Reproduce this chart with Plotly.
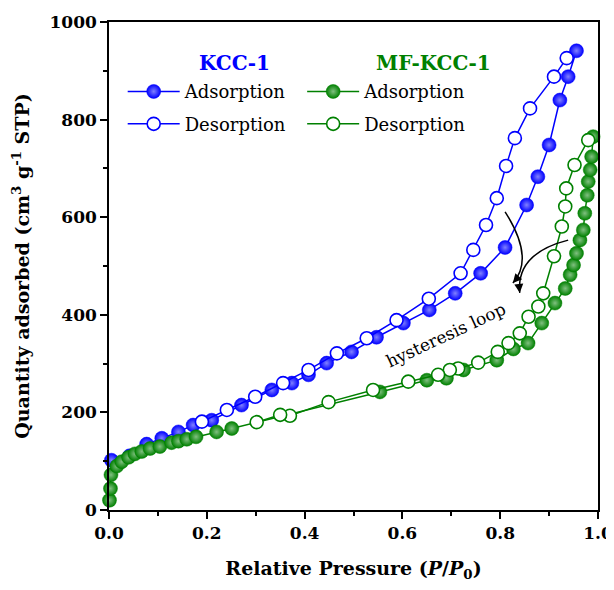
import plotly.graph_objects as go

# ---- data ----
kcc_ads_x = [0.005, 0.042, 0.077, 0.108, 0.142, 0.172, 0.21, 0.271, 0.333, 0.374, 0.408, 0.445,
             0.496, 0.547, 0.602, 0.655, 0.708, 0.76, 0.81, 0.854, 0.877, 0.9, 0.922, 0.939, 0.956]
kcc_ads_y = [102, 111, 135, 147, 160, 174, 184, 215, 246, 260, 277, 301,
             324, 354, 383, 410, 444, 485, 538, 625, 683, 748, 840, 888, 941]

kcc_des_x = [0.936, 0.91, 0.861, 0.83, 0.812, 0.793, 0.771, 0.745, 0.719, 0.654, 0.588, 0.527,
             0.466, 0.408, 0.356, 0.299, 0.241, 0.19]
kcc_des_y = [926, 888, 823, 762, 705, 639, 584, 533, 485, 433, 389, 352,
             321, 287, 260, 232, 205, 181]

mf_ads_x = [0.001, 0.003, 0.004, 0.016, 0.026, 0.04, 0.053, 0.067, 0.084, 0.104, 0.128, 0.142,
            0.159, 0.178, 0.22, 0.251, 0.554, 0.65, 0.69, 0.725, 0.793, 0.827, 0.857, 0.885,
            0.912, 0.933, 0.943, 0.95, 0.956, 0.963, 0.97, 0.973, 0.978, 0.98, 0.984, 0.987, 0.99]
mf_ads_y = [20, 44, 72, 90, 99, 108, 115, 120, 126, 130, 138, 141,
            145, 150, 160, 167, 242, 266, 270, 287, 307, 330, 342, 383,
            424, 454, 482, 502, 526, 553, 574, 608, 645, 673, 697, 724, 765]

mf_des_x = [0.98, 0.952, 0.935, 0.933, 0.926, 0.91, 0.888, 0.878, 0.858, 0.84, 0.817, 0.795,
            0.755, 0.714, 0.697, 0.673, 0.612, 0.54, 0.449, 0.37, 0.35, 0.302]
mf_des_y = [758, 707, 659, 622, 581, 520, 444, 417, 396, 362, 342, 324,
            302, 290, 287, 277, 263, 246, 221, 193, 195, 180]

x_ticks = [0.0, 0.2, 0.4, 0.6, 0.8, 1.0]
x_tick_labels = ["0.0", "0.2", "0.4", "0.6", "0.8", "1.0"]
y_ticks = [0, 200, 400, 600, 800, 1000]
y_tick_labels = ["0", "200", "400", "600", "800", "1000"]

BLUE = "#0000ff"
GREEN = "#008000"
SERIF = "DejaVu Serif"

fig = go.Figure()

def filled(x, y, color, light, legend, group):
    return go.Scatter(
        x=x, y=y, mode="lines+markers", name="Adsorption",
        legend=legend, legendgroup=group,
        line=dict(color=color, width=1.5),
        marker=dict(size=14, color=color, line=dict(color=color, width=0.5),
                    gradient=dict(type="radial", color=light)),
        cliponaxis=False,
    )

def hollow(x, y, color, legend, group):
    return go.Scatter(
        x=x, y=y, mode="lines+markers", name="Desorption",
        legend=legend, legendgroup=group,
        line=dict(color=color, width=1.5),
        marker=dict(size=13, color="white", line=dict(color=color, width=1.6)),
        cliponaxis=False,
    )

fig.add_trace(filled(kcc_ads_x, kcc_ads_y, BLUE, "#8080ff", "legend", "a"))
fig.add_trace(hollow(kcc_des_x, kcc_des_y, BLUE, "legend", "b"))
fig.add_trace(filled(mf_ads_x, mf_ads_y, GREEN, "#80c080", "legend2", "c"))
fig.add_trace(hollow(mf_des_x, mf_des_y, GREEN, "legend2", "d"))

axis_common = dict(
    showline=True, linecolor="black", linewidth=1.5, mirror=True,
    ticks="outside", ticklen=7, tickwidth=1.5, tickcolor="black",
    showgrid=False, zeroline=False, automargin=False, ticklabeloverflow="allow",
    tickfont=dict(family=SERIF, size=17, color="black", weight="bold"),
)

fig.update_xaxes(
    range=[0, 1.0], tickvals=x_ticks, ticktext=x_tick_labels,
    minor=dict(ticks="outside", ticklen=4, tickwidth=1.5, tickcolor="black", dtick=0.1),
    title=dict(text="Relative Pressure (<i>P</i>/<i>P</i><sub>0</sub>)",
               font=dict(family=SERIF, size=19, color="black", weight="bold"), standoff=36),
    **axis_common,
)
fig.update_yaxes(
    range=[0, 1000], tickvals=y_ticks, ticktext=y_tick_labels,
    minor=dict(ticks="outside", ticklen=4, tickwidth=1.5, tickcolor="black", dtick=100),
    title=dict(text="Quantity adsorbed (cm<sup>3</sup> g<sup>-1</sup> STP)",
               font=dict(family=SERIF, size=19, color="black", weight="bold"), standoff=15),
    **axis_common,
)

legend_common = dict(
    font=dict(family=SERIF, size=18, color="black"),
    bgcolor="rgba(0,0,0,0)", borderwidth=0, itemwidth=52,
    traceorder="grouped", tracegroupgap=6,
    xanchor="left", yanchor="top", yref="paper", xref="paper",
    itemclick=False, itemdoubleclick=False,
)
fig.update_layout(
    legend=dict(x=0.028, y=0.895, **legend_common),
    legend2=dict(x=0.395, y=0.895, **legend_common),
)

# legend group titles
fig.add_annotation(x=0.179, y=0.916, xref="paper", yref="paper", text="<b>KCC-1</b>",
                   showarrow=False, xanchor="left", yanchor="middle",
                   font=dict(family=SERIF, size=20, color=BLUE))
fig.add_annotation(x=0.541, y=0.916, xref="paper", yref="paper", text="<b>MF-KCC-1</b>",
                   showarrow=False, xanchor="left", yanchor="middle",
                   font=dict(family=SERIF, size=20, color=GREEN))

# hysteresis loop label
fig.add_annotation(x=0.689, y=359, xref="x", yref="y", text="hysteresis loop",
                   showarrow=False, textangle=-25,
                   font=dict(family=SERIF, size=17, color="black"))

# curved arrows
fig.add_shape(type="path", xref="x", yref="y",
              path="M 0.81,611 Q 0.871,515 0.826,465",
              line=dict(color="black", width=1.5))
fig.add_shape(type="path", xref="x", yref="y",
              path="M 0.939,553 Q 0.832,526 0.840,445",
              line=dict(color="black", width=1.5))
fig.add_annotation(x=0.826, y=465, xref="x", yref="y", ax=6, ay=-7, text="",
                   showarrow=True, arrowhead=2, arrowsize=1.2, arrowwidth=1.5, arrowcolor="black")
fig.add_annotation(x=0.840, y=445, xref="x", yref="y", ax=-1, ay=-9, text="",
                   showarrow=True, arrowhead=2, arrowsize=1.2, arrowwidth=1.5, arrowcolor="black")

# page body has an 8px default margin; the figure is offset by it
fig.update_layout(
    width=614, height=574,
    margin=dict(l=101, r=24, t=14, b=72),
    paper_bgcolor="white", plot_bgcolor="white",
    showlegend=True,
)

fig.write_html("out.html")
